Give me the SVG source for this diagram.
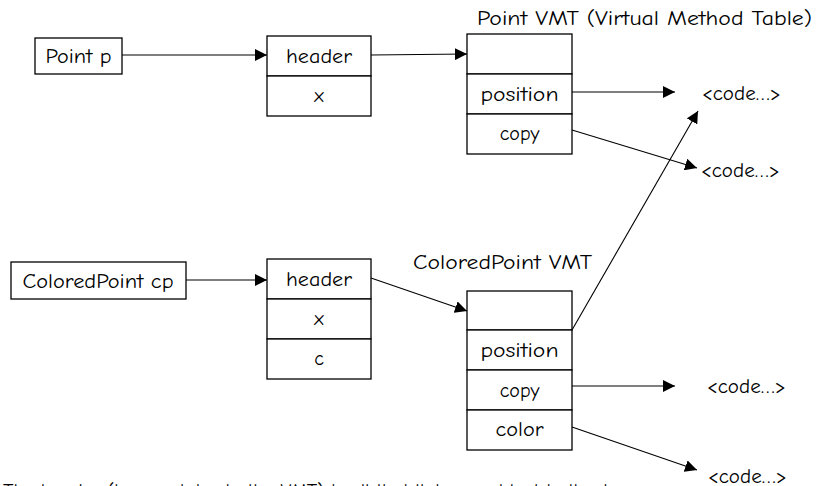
<svg xmlns="http://www.w3.org/2000/svg" width="825" height="486" viewBox="0 0 825 486">
<defs>
<style>
text{font-family:"Comic Sans MS","Comic Neue","Open Sans","Liberation Sans",sans-serif;font-size:20px;fill:#000}
.c{text-anchor:middle}
rect{fill:#fff;stroke:#000;stroke-width:1.3}
line{stroke:#000;stroke-width:1.1}
.a{marker-end:url(#ah)}
</style>
<marker id="ah" viewBox="0 0 10 10" refX="10" refY="5" markerWidth="12" markerHeight="12" markerUnits="userSpaceOnUse" orient="auto">
<path d="M0,0 L10,5 L0,10 z" fill="#000"/>
</marker>
</defs>
<rect x="0" y="0" width="825" height="486" style="stroke:none;fill:#fff"/>

<g id="point-p">
<rect x="35" y="38" width="87" height="36"/>
<text x="78.5" y="63" class="c" textLength="66" lengthAdjust="spacingAndGlyphs">Point p</text>
</g>
<g id="point-obj">
<rect x="267" y="36" width="104" height="40"/>
<rect x="267" y="76" width="104" height="40"/>
<text x="319" y="63" class="c" textLength="66" lengthAdjust="spacingAndGlyphs">header</text>
<text x="319" y="102" class="c">x</text>
</g>
<g id="point-vmt">
<text x="477" y="25" textLength="335" lengthAdjust="spacingAndGlyphs">Point VMT (Virtual Method Table)</text>
<rect x="467" y="34" width="105" height="40"/>
<rect x="467" y="74" width="105" height="40"/>
<rect x="467" y="114" width="105" height="40"/>
<text x="519.5" y="101" class="c" textLength="78" lengthAdjust="spacingAndGlyphs">position</text>
<text x="519.5" y="140" class="c">copy</text>
</g>
<g id="code1"><text x="702" y="100" textLength="79" lengthAdjust="spacingAndGlyphs">&lt;code…&gt;</text></g>
<g id="code2"><text x="701" y="177" textLength="79" lengthAdjust="spacingAndGlyphs">&lt;code…&gt;</text></g>

<g id="cp">
<rect x="11" y="262" width="175" height="37"/>
<text x="98" y="288" class="c" textLength="151" lengthAdjust="spacingAndGlyphs">ColoredPoint cp</text>
</g>
<g id="cp-obj">
<rect x="267" y="259" width="104" height="40"/>
<rect x="267" y="299" width="104" height="40"/>
<rect x="267" y="339" width="104" height="40"/>
<text x="319" y="286" class="c" textLength="66" lengthAdjust="spacingAndGlyphs">header</text>
<text x="319" y="325" class="c">x</text>
<text x="319" y="365" class="c">c</text>
</g>
<g id="cp-vmt">
<text x="413" y="269" textLength="179" lengthAdjust="spacingAndGlyphs">ColoredPoint VMT</text>
<rect x="467" y="291" width="105" height="39"/>
<rect x="467" y="330" width="105" height="40"/>
<rect x="467" y="370" width="105" height="40"/>
<rect x="467" y="410" width="105" height="40"/>
<text x="519.5" y="357" class="c" textLength="78" lengthAdjust="spacingAndGlyphs">position</text>
<text x="519.5" y="397" class="c">copy</text>
<text x="519.5" y="436" class="c" textLength="48" lengthAdjust="spacingAndGlyphs">color</text>
</g>
<g id="code3"><text x="707" y="393" textLength="79" lengthAdjust="spacingAndGlyphs">&lt;code…&gt;</text></g>
<g id="code4"><text x="708" y="483" textLength="79" lengthAdjust="spacingAndGlyphs">&lt;code…&gt;</text></g>

<g id="note"><text x="3" y="498">The header (i.e. a pointer to the VMT) is all that links an object to its class</text></g>

<g id="connectors">
<line class="a" x1="122" y1="55" x2="267" y2="55"/>
<line class="a" x1="371" y1="55" x2="467" y2="54"/>
<line class="a" x1="572" y1="92" x2="675" y2="92"/>
<line class="a" x1="572" y1="130" x2="697" y2="168"/>
<line class="a" x1="572" y1="330" x2="698" y2="111"/>
<line class="a" x1="186" y1="280" x2="267" y2="280"/>
<line class="a" x1="371" y1="278" x2="467" y2="311"/>
<line class="a" x1="572" y1="386" x2="675" y2="386"/>
<line class="a" x1="572" y1="427" x2="697" y2="470"/>
</g>
</svg>
